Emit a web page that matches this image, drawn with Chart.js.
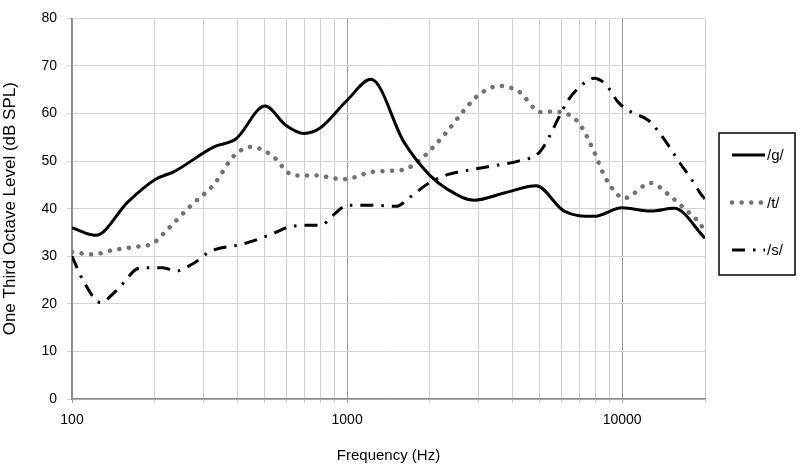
<!DOCTYPE html>
<html lang="en">
<head>
    <meta charset="UTF-8">
    <title>One Third Octave Level</title>
    <script src="https://cdn.jsdelivr.net/npm/chart.js"></script>
    <style>
        html, body { margin: 0; padding: 0; background: #fff; }
        #wrap { width: 800px; height: 470px; }
    </style>
</head>
<body>
    <div id="wrap"><canvas id="octaveChart"></canvas></div>

    <script>
        // values (frequency in Hz, level in dB SPL)
        const gFreq = [100, 122, 160, 200, 235, 328, 395, 503, 600, 698, 800, 1000, 1222, 1610, 2000, 2330, 2900, 3725, 4870, 6150, 7900, 10000, 12700, 15450, 20000];
        const gLevel = [36, 34.4, 41.5, 46.1, 47.8, 53, 54.7, 61.6, 57.5, 55.8, 57, 62.8, 67.2, 54, 47, 44, 41.8, 43.3, 44.8, 39.5, 38.4, 40.2, 39.5, 40.1, 33.8];

        const tFreq = [100, 119, 141, 181, 196, 223, 271, 328, 388, 448, 530, 642, 759, 976, 1253, 1600, 1860, 2254, 2663, 3020, 3570, 4190, 5070, 5600, 6920, 7900, 8600, 9500, 10160, 12700, 14700, 16700, 19370, 20000];
        const tLevel = [30.9, 30.4, 31.3, 32.2, 32.6, 35.7, 40.7, 45.1, 51.1, 53, 51.3, 47, 47, 46.2, 47.8, 48.2, 50.5, 55.5, 60.7, 64, 65.8, 64.7, 60.3, 60.4, 58.2, 52, 47, 43.3, 42.2, 45.4, 43, 40.2, 36.5, 35];

        const sFreq = [100, 110, 127, 145, 178, 214, 239, 278, 320, 412, 475, 543, 610, 710, 800, 897, 1000, 1253, 1507, 1710, 1972, 2330, 2825, 3540, 4190, 4990, 5380, 5850, 6360, 6920, 7900, 8750, 9660, 10800, 12440, 13650, 15080, 16250, 17820, 19370, 20000];
        const sLevel = [30, 24.8, 20.3, 22.8, 27.6, 27.6, 26.9, 28.6, 31.1, 32.5, 33.6, 34.9, 36.1, 36.5, 36.5, 38.8, 40.7, 40.7, 40.5, 42.6, 45.3, 47.2, 48.2, 49.2, 50, 51.8, 54.7, 58.9, 62.8, 65.3, 67.4, 66, 62.4, 60.3, 58.6, 56, 52.4, 49.5, 46.3, 43, 42];

        const seriesNames = ['/g/', '/t/', '/s/'];
        const xTicks = [100, 200, 300, 400, 500, 600, 700, 800, 900, 1000, 2000, 3000, 4000, 5000, 6000, 7000, 8000, 9000, 10000, 20000];
        const xLabels = [100, 1000, 10000];

        const FONT = 'Liberation Sans, Arial, sans-serif';

        function pairs(xs, ys) {
            return xs.map((x, i) => ({ x: x, y: ys[i] }));
        }

        // boxed legend on the right, drawn from the dataset styles
        const boxLegend = {
            id: 'boxLegend',
            afterDraw(chart) {
                const ctx = chart.ctx;
                const area = chart.chartArea;
                const bx = area.right + 14, by = 133, bw = 76, bh = 142;
                ctx.save();
                ctx.strokeStyle = '#000';
                ctx.lineWidth = 1.5;
                ctx.strokeRect(bx, by, bw, bh);
                chart.data.datasets.forEach((ds, i) => {
                    const y = by + 22 + i * 47.5;
                    ctx.beginPath();
                    ctx.strokeStyle = ds.borderColor;
                    ctx.lineWidth = ds.borderWidth;
                    ctx.lineCap = ds.borderCapStyle || 'butt';
                    ctx.setLineDash(ds.borderDash || []);
                    ctx.moveTo(bx + 13, y);
                    ctx.lineTo(bx + 46, y);
                    ctx.stroke();
                    ctx.setLineDash([]);
                    ctx.fillStyle = '#000';
                    ctx.font = '15px ' + FONT;
                    ctx.textBaseline = 'middle';
                    ctx.fillText(ds.label, bx + 48, y + 1);
                });
                ctx.restore();
            }
        };

        const ctx = document.getElementById('octaveChart').getContext('2d');
        new Chart(ctx, {
            type: 'line',
            data: {
                datasets: [
                    {
                        label: seriesNames[0],
                        data: pairs(gFreq, gLevel),
                        borderColor: '#000',
                        borderWidth: 3,
                        pointRadius: 0,
                        cubicInterpolationMode: 'monotone'
                    },
                    {
                        label: seriesNames[1],
                        data: pairs(tFreq, tLevel),
                        borderColor: '#727272',
                        borderWidth: 4.5,
                        borderCapStyle: 'round',
                        borderDash: [0.1, 9.5],
                        pointRadius: 0,
                        cubicInterpolationMode: 'monotone'
                    },
                    {
                        label: seriesNames[2],
                        data: pairs(sFreq, sLevel),
                        borderColor: '#000',
                        borderWidth: 3,
                        borderDash: [13, 8, 2.5, 8],
                        pointRadius: 0,
                        cubicInterpolationMode: 'monotone'
                    }
                ]
            },
            options: {
                responsive: true,
                maintainAspectRatio: false,
                animation: false,
                layout: { padding: { top: 14, right: 95, left: 0, bottom: 0 } },
                plugins: {
                    legend: { display: false },
                    tooltip: { enabled: false }
                },
                scales: {
                    x: {
                        type: 'logarithmic',
                        min: 100,
                        max: 20000,
                        afterBuildTicks: scale => {
                            scale.ticks = xTicks.map(v => ({ value: v }));
                        },
                        afterFit: scale => { scale.height = 71; },
                        ticks: {
                            autoSkip: false,
                            maxRotation: 0,
                            color: '#000',
                            font: { family: FONT, size: 14 },
                            padding: 9,
                            callback: v => xLabels.includes(v) ? String(v) : ''
                        },
                        grid: {
                            color: c => xLabels.includes(c.tick.value) ? '#9a9a9a' : '#cfcfcf',
                            lineWidth: 1,
                            tickLength: 4
                        },
                        border: { color: '#888', width: 1.5 },
                        title: {
                            display: true,
                            text: 'Frequency (Hz)',
                            color: '#000',
                            font: { family: FONT, size: 15 },
                            padding: { top: 4, bottom: 5 }
                        }
                    },
                    y: {
                        min: 0,
                        max: 80,
                        afterFit: scale => { scale.width = 72; },
                        ticks: {
                            stepSize: 10,
                            color: '#000',
                            font: { family: FONT, size: 14 },
                            padding: 10
                        },
                        grid: {
                            color: '#d3d3d3',
                            lineWidth: 1,
                            tickLength: 5
                        },
                        border: { color: '#888', width: 1.5 },
                        title: {
                            display: true,
                            text: 'One Third Octave Level (dB SPL)',
                            color: '#000',
                            font: { family: FONT, size: 17 },
                            padding: { top: 0, bottom: 0 }
                        }
                    }
                }
            },
            plugins: [boxLegend]
        });
    </script>
</body>
</html>
